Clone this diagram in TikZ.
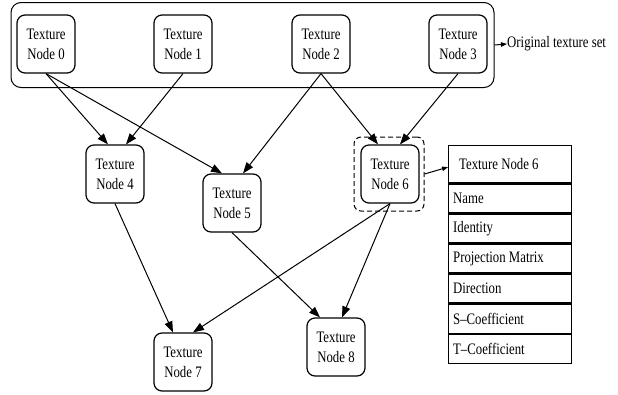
\documentclass[tikz,border=0pt]{standalone}
\usepackage{fontspec}
\setmainfont{Liberation Serif}[FakeStretch=0.8]
\usetikzlibrary{arrows.meta}
\begin{document}
\begin{tikzpicture}[x=1pt,y=-1pt,
  txt/.style={font=\fontsize{16pt}{20pt}\selectfont},
  tnode/.style={txt, draw, rounded corners=8pt, line width=1.2pt, minimum width=58pt, minimum height=58pt, align=center, inner sep=0pt},
  outerbox/.style={draw, rounded corners=10pt, line width=1pt, minimum width=483pt, minimum height=85pt, inner sep=0pt},
  dashbox/.style={draw, rounded corners=7pt, line width=1pt, dash pattern=on 5pt off 3pt, minimum width=70pt, minimum height=74pt, inner sep=0pt},
  hdrrow/.style={txt, draw, line width=1.3pt, anchor=north west, minimum width=123pt, minimum height=37pt, text width=102pt, inner xsep=10.5pt, inner ysep=0pt, align=flush left},
  tabrow/.style={txt, draw, line width=1.3pt, anchor=north west, minimum width=123pt, minimum height=28.8pt, text width=114pt, inner xsep=4.5pt, inner ysep=0pt, align=flush left},
  arr/.style={line width=1pt, -{Triangle[length=11pt,width=8pt]}},
  arrsmall/.style={line width=1pt, -{Triangle[length=6pt,width=4.5pt]}}
]
\useasboundingbox (0,0) rectangle (618,394);

% original texture set
\node[outerbox] (set) at (252.5,45) {};
\node[txt, anchor=west, inner sep=0pt] (lbl) at (507,44) {Original texture set};
\draw[arrsmall] (set.east) -- (lbl.west);

% texture nodes
\node[tnode] (n0) at (46,44) {Texture\\Node 0};
\node[tnode] (n1) at (183,44) {Texture\\Node 1};
\node[tnode] (n2) at (321,44) {Texture\\Node 2};
\node[tnode] (n3) at (458,44) {Texture\\Node 3};
\node[tnode] (n4) at (115,174) {Texture\\Node 4};
\node[tnode] (n5) at (232,203) {Texture\\Node 5};
\node[tnode] (n6) at (390,174) {Texture\\Node 6};
\node[tnode] (n7) at (183,362) {Texture\\Node 7};
\node[tnode] (n8) at (336,347) {Texture\\Node 8};

\node[dashbox] (d6) at (389,174) {};

% table
\node[hdrrow] (t0) at (448,145) {Texture Node 6};
\node[tabrow] (t1) at (t0.south west) {Name};
\node[tabrow] (t2) at (t1.south west) {Identity};
\node[tabrow] (t3) at (t2.south west) {Projection Matrix};
\node[tabrow] (t4) at (t3.south west) {Direction};
\node[tabrow] (t5) at (t4.south west) {S\textendash Coefficient};
\node[tabrow] (t6) at (t5.south west) {T\textendash Coefficient};
\draw[arrsmall] (d6.east) -- ([yshift=-3pt]t0.west);

% edges
\draw[arr] (n0.south) -- ([xshift=-7pt]n4.north);
\draw[arr] (n1.south) -- ([xshift=11pt]n4.north);
\draw[arr] (n0.south) -- ([xshift=-10pt]n5.north);
\draw[arr] (n2.south) -- ([xshift=11pt]n5.north);
\draw[arr] (n2.south) -- ([xshift=-12pt]n6.north);
\draw[arr] (n3.south) -- ([xshift=10pt]n6.north);
\draw[arr] (n4.south) -- ([xshift=-10pt]n7.north);
\draw[arr] (n6.south) -- ([xshift=10pt]n7.north);
\draw[arr] (n5.south) -- ([xshift=-16pt]n8.north);
\draw[arr] (n6.south) -- ([xshift=6pt]n8.north);
\end{tikzpicture}
\end{document}
